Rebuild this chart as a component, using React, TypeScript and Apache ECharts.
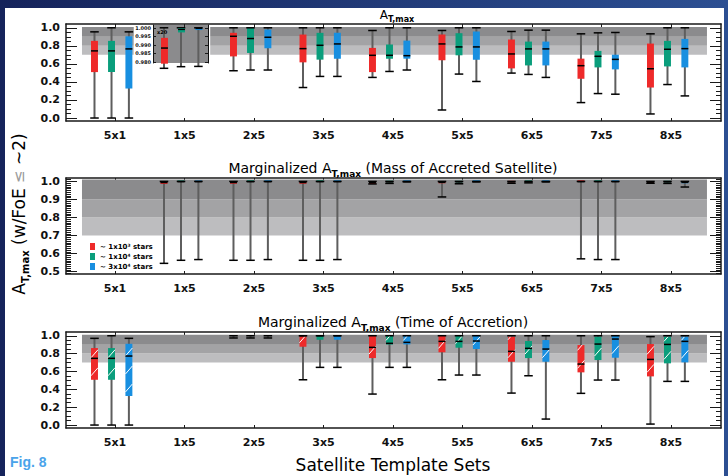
import React, { useEffect, useRef } from 'react';
import * as echarts from 'echarts';

const categories = ['5x1', '1x5', '2x5', '3x5', '4x5', '5x5', '6x5', '7x5', '8x5'];
const starLabels = ['~ 1x10³ stars', '~ 1x10⁴ stars', '~ 3x10⁴ stars'];
const boxColors = ['#ee2a2a', '#0a9e7c', '#188fe0'];

type Q = (number | null)[];
const NONE: Q = [null, null, null, null, null];

// each row: [min, q1, median, q3, max]
// Panel 1 : A_T,max
const atmaxRed: Q[] = [
  [0, 0.509, 0.744, 0.855, 0.955],
  [0.551, null, null, null, 1.0],
  [0.524, 0.683, 0.906, 0.944, 1.0],
  [0.338, 0.617, 0.769, 0.925, 1.0],
  [0.45, 0.509, 0.695, 0.777, 0.97],
  [0.089, 0.639, 0.821, 0.925, 0.97],
  [0.498, 0.55, 0.71, 0.87, 0.959],
  [0.171, 0.435, 0.58, 0.658, 0.933],
  [0.045, 0.338, 0.546, 0.825, 0.933],
];
const atmaxGreen: Q[] = [
  [0, 0.51, 0.744, 0.855, 1.0],
  [0.569, null, null, null, 1.0],
  [0.532, 0.721, 0.881, 1.0, 1.0],
  [0.461, 0.647, 0.806, 0.944, 1.0],
  [0.516, 0.658, 0.695, 0.814, 1.0],
  [0.487, 0.695, 0.788, 0.94, 1.0],
  [0.483, 0.583, 0.766, 0.847, 0.974],
  [0.271, 0.561, 0.684, 0.744, 0.944],
  [0.371, 0.572, 0.762, 0.855, 1.0],
];
const atmaxBlue: Q[] = [
  [0, 0.327, 0.766, 0.906, 0.955],
  [0.572, null, null, null, 1.0],
  [0.532, 0.773, 0.895, 0.981, 1.0],
  [0.461, 0.658, 0.821, 0.944, 1.0],
  [0.532, 0.658, 0.691, 0.858, 1.0],
  [0.405, 0.647, 0.788, 0.959, 1.0],
  [0.45, 0.583, 0.766, 0.847, 0.974],
  [0.264, 0.539, 0.65, 0.702, 0.948],
  [0.245, 0.561, 0.769, 0.877, 1.0],
];
// Inset (x20 zoom of the 1x5 set)
const insetRed: Q[] = [NONE, [null, 0.979, 0.9882, 0.9942, null], NONE, NONE, NONE, NONE, NONE, NONE, NONE];
const insetGreen: Q[] = [NONE, [null, 0.9974, 0.9992, 1.0, null], NONE, NONE, NONE, NONE, NONE, NONE, NONE];
const insetBlue: Q[] = [NONE, [null, 0.9988, 0.9998, 1.0, null], NONE, NONE, NONE, NONE, NONE, NONE, NONE];

// Panel 2 : Marginalized (Mass of Accreted Satellite)
const massRed: Q[] = [
  NONE,
  [0.546, 0.986, 0.994, 1.0, 1.0],
  [0.563, 0.987, 0.994, 1.0, 1.0],
  [0.563, 0.987, 0.994, 1.0, 1.0],
  [0.986, 0.986, 0.993, 1.0, 1.0],
  [0.914, 0.99, 0.995, 1.0, 1.0],
  [0.99, 0.995, 0.998, 1.0, 1.0],
  [0.571, 0.998, 0.999, 1.0, 1.0],
  [0.99, 0.993, 0.996, 1.0, 1.0],
];
const massGreen: Q[] = [
  NONE,
  [0.563, 0.997, 0.999, 1.0, 1.0],
  [0.563, 0.998, 0.999, 1.0, 1.0],
  [0.563, 0.998, 0.999, 1.0, 1.0],
  [0.989, 0.995, 0.998, 1.0, 1.0],
  [0.987, 0.995, 0.998, 1.0, 1.0],
  [0.992, 0.997, 0.999, 1.0, 1.0],
  [0.567, 0.998, 0.999, 1.0, 1.0],
  [0.989, 0.995, 0.998, 1.0, 1.0],
];
const massBlue: Q[] = [
  NONE,
  [0.567, 0.997, 0.999, 1.0, 1.0],
  [0.567, 0.998, 0.999, 1.0, 1.0],
  [0.567, 0.998, 0.999, 1.0, 1.0],
  [0.998, 0.998, 0.999, 1.0, 1.0],
  [0.998, 0.998, 0.999, 1.0, 1.0],
  [0.998, 0.998, 0.999, 1.0, 1.0],
  [0.567, 0.998, 0.999, 1.0, 1.0],
  [0.969, 0.99, 0.995, 1.0, 1.0],
];

// Panel 3 : Marginalized (Time of Accretion)
const timeRed: Q[] = [
  [0, 0.507, 0.747, 0.862, 0.971],
  NONE,
  [0.975, null, null, null, 1.0],
  [0.507, 0.877, 1.0, 1.0, 1.0],
  [0.347, 0.75, 0.87, 1.0, 1.0],
  [0.507, 0.814, 0.937, 1.0, 1.0],
  [0.358, 0.709, 0.825, 0.99, 1.0],
  [0.355, 0.59, 0.683, 0.896, 1.0],
  [0.011, 0.545, 0.735, 0.907, 0.99],
];
const timeGreen: Q[] = [
  [0, 0.507, 0.747, 0.862, 1.0],
  NONE,
  [0.975, null, null, null, 1.0],
  [0.646, 0.955, 1.0, 1.0, 1.0],
  [0.646, 0.903, 0.915, 1.0, 1.0],
  [0.56, 0.866, 0.937, 1.0, 1.0],
  [0.552, 0.75, 0.859, 0.941, 1.0],
  [0.504, 0.728, 0.907, 0.99, 1.0],
  [0.489, 0.691, 0.903, 0.99, 1.0],
];
const timeBlue: Q[] = [
  [0, 0.325, 0.773, 0.91, 0.971],
  NONE,
  [0.975, null, null, null, 1.0],
  [0.646, 0.955, 1.0, 1.0, 1.0],
  [0.646, 0.903, 0.926, 1.0, 1.0],
  [0.56, 0.851, 0.941, 1.0, 1.0],
  [0.067, 0.709, 0.851, 0.952, 1.0],
  [0.504, 0.754, 0.963, 1.0, 1.0],
  [0.489, 0.702, 0.937, 0.99, 1.0],
];

// Shaded reference bands
const bandLow = [0.7, 0.8, 0.9];
const bandHigh = [0.8, 0.9, 1.01];
const bandColors = ['#bdbdbf', '#a3a3a5', '#8b8b8d'];

// Tick labels
const yTicksFull = [0, 0.2, 0.4, 0.6, 0.8, 1.0];
const yTicksMarg = [0.5, 0.6, 0.7, 0.8, 0.9, 1.0];
const yTicksInset = [0.98, 0.985, 0.99, 0.995, 1.0];

// ---------- layout ----------
const FONT = "'DejaVu Sans', sans-serif";
const X_MIN = -0.705;
const X_MAX = 8.72;
const OFFSETS = [-0.295, -0.05, 0.2];
const BOX_W = 0.1;
const BAND_X0 = -0.475;
const BAND_X1 = 8.518;
const INSET_X0 = 0.27;
const INSET_X1 = 1.37;

function steps(a: number, b: number, n: number) {
  const out: number[] = [];
  for (let k = 0; k <= n; k++) out.push(+(a + ((b - a) * k) / n).toFixed(4));
  return out;
}

const panels = [
  { top: 24, height: 97, yMin: -0.033, yMax: 1.042, major: yTicksFull, minor: steps(0, 1, 20), data: [atmaxRed, atmaxGreen, atmaxBlue], hatch: false, bandSegs: [[BAND_X0, INSET_X0], [INSET_X1, BAND_X1]] },
  { top: 178, height: 96, yMin: 0.487, yMax: 1.019, major: yTicksMarg, minor: steps(0.49, 1.01, 52), data: [massRed, massGreen, massBlue], hatch: false, bandSegs: [[BAND_X0, BAND_X1]] },
  { top: 332, height: 96, yMin: -0.033, yMax: 1.042, major: yTicksFull, minor: steps(0, 1, 20), data: [timeRed, timeGreen, timeBlue], hatch: true, bandSegs: [[BAND_X0, BAND_X1]] },
];

function makeBoxRenderer(rows: Q[], offset: number, color: string, hatch: boolean) {
  return (params: any, api: any) => {
    const r = rows[params.dataIndex];
    if (!r) return null;
    const [mn, q1, md, q3, mx] = r;
    const xv = params.dataIndex + offset;
    const cx = api.coord([xv, 0.99])[0];
    const half = api.size([BOX_W, 0])[0] / 2;
    const children: any[] = [];
    const hasW = mn != null && mx != null;
    let yMin = 0, yMax = 0;
    if (hasW) {
      yMin = api.coord([xv, mn])[1];
      yMax = api.coord([xv, mx])[1];
      children.push({ type: 'line', shape: { x1: cx, y1: yMin, x2: cx, y2: yMax }, style: { stroke: '#5e5e5e', lineWidth: 2 } });
    }
    if (q1 != null && q3 != null) {
      const yb = api.coord([xv, q1])[1];
      const yt0 = api.coord([xv, q3])[1];
      const h = Math.max(yb - yt0, 1.5);
      const yt = yb - h;
      children.push({ type: 'rect', shape: { x: cx - half, y: yt, width: half * 2, height: h }, style: { fill: color } });
      if (hatch) {
        const rise = 8;
        for (let y = yb - 4; y > yt + 1.5; y -= 18) {
          const yEnd = y - rise;
          if (yEnd >= yt) {
            children.push({ type: 'line', shape: { x1: cx - half, y1: y, x2: cx + half, y2: yEnd }, style: { stroke: '#ffffff', lineWidth: 1 } });
          } else {
            const frac = (y - yt) / rise;
            children.push({ type: 'line', shape: { x1: cx - half, y1: y, x2: cx - half + 2 * half * frac, y2: yt }, style: { stroke: '#ffffff', lineWidth: 1 } });
          }
        }
      }
      if (md != null) {
        const ym = api.coord([xv, md])[1];
        children.push({ type: 'line', shape: { x1: cx - half, y1: ym, x2: cx + half, y2: ym }, style: { stroke: '#000', lineWidth: 1.5 } });
      }
    }
    if (hasW) {
      const cw = half + 0.8;
      children.push({ type: 'line', shape: { x1: cx - cw, y1: yMin, x2: cx + cw, y2: yMin }, style: { stroke: '#000', lineWidth: 1.5 } });
      children.push({ type: 'line', shape: { x1: cx - cw, y1: yMax, x2: cx + cw, y2: yMax }, style: { stroke: '#000', lineWidth: 1.5 } });
    }
    return { type: 'group', children };
  };
}

function renderBand(params: any, api: any) {
  const p0 = api.coord([api.value(0), api.value(3)]);
  const p1 = api.coord([api.value(1), api.value(2)]);
  return { type: 'rect', shape: { x: p0[0], y: p0[1], width: p1[0] - p0[0], height: p1[1] - p0[1] }, style: { fill: bandColors[api.value(4)] } };
}

function buildOption() {
  const grid: any[] = [];
  const xAxis: any[] = [];
  const yAxis: any[] = [];
  const series: any[] = [];
  const catPos = categories.map((_, i) => i);
  const frameLine = { show: true, onZero: false, lineStyle: { color: '#1a1a1a', width: 1.5 } };
  const tickStyle = { color: '#1a1a1a', width: 1 };

  panels.forEach((p, pi) => {
    grid.push({ left: 66, right: 7, top: p.top, height: p.height, containLabel: false, outerBoundsMode: 'none' });
    xAxis.push({
      gridIndex: pi, type: 'value', min: X_MIN, max: X_MAX, position: 'bottom',
      axisLine: frameLine, splitLine: { show: false },
      axisTick: { show: true, inside: true, length: 3, customValues: catPos, lineStyle: tickStyle },
      axisLabel: { show: true, customValues: catPos, formatter: (v: number) => categories[Math.round(v)] ?? '', margin: 9, fontSize: 11, fontWeight: 'bold', fontFamily: FONT, color: '#111' },
    });
    xAxis.push({
      gridIndex: pi, type: 'value', min: X_MIN, max: X_MAX, position: 'top',
      axisLine: frameLine, splitLine: { show: false },
      axisTick: { show: true, inside: true, length: 3, customValues: catPos, lineStyle: tickStyle },
      axisLabel: { show: false },
    });
    const base = { gridIndex: pi, type: 'value', min: p.yMin, max: p.yMax, splitLine: { show: false } };
    yAxis.push({
      ...base, position: 'left', axisLine: frameLine,
      axisTick: { show: true, inside: true, length: 11, customValues: p.major, lineStyle: tickStyle },
      axisLabel: { show: true, customValues: p.major, formatter: (v: number) => v.toFixed(1), margin: 6, fontSize: 11, fontWeight: 'bold', fontFamily: FONT, color: '#111' },
    });
    yAxis.push({
      ...base, position: 'left', axisLine: { show: false, onZero: false },
      axisTick: { show: true, inside: true, length: 5, customValues: p.minor, lineStyle: tickStyle },
      axisLabel: { show: false },
    });
    yAxis.push({
      ...base, position: 'right', axisLine: frameLine,
      axisTick: { show: true, inside: true, length: 11, customValues: p.major, lineStyle: tickStyle },
      axisLabel: { show: false },
    });
    yAxis.push({
      ...base, position: 'right', axisLine: { show: false, onZero: false },
      axisTick: { show: true, inside: true, length: 5, customValues: p.minor, lineStyle: tickStyle },
      axisLabel: { show: false },
    });

    const bandData: number[][] = [];
    p.bandSegs.forEach(([x0, x1]) => {
      bandLow.forEach((lo, k) => bandData.push([x0, x1, lo, bandHigh[k], k]));
    });
    series.push({
      type: 'custom', xAxisIndex: pi * 2, yAxisIndex: pi * 4, z: 1, silent: true,
      renderItem: renderBand, data: bandData, encode: { x: [0, 1], y: [2, 3] },
    });
    p.data.forEach((rows, c) => {
      series.push({
        type: 'custom', name: starLabels[c], xAxisIndex: pi * 2, yAxisIndex: pi * 4, z: 2, silent: true,
        itemStyle: { color: boxColors[c] },
        renderItem: makeBoxRenderer(rows, OFFSETS[c], boxColors[c], p.hatch),
        data: rows.map((r, i) => [i + OFFSETS[c], r[2] ?? r[4] ?? 0.99]),
        encode: { x: 0, y: 1 },
      });
    });
  });

  // inset grid (index 3), xAxis 6, yAxis 12/13
  grid.push({ left: 153, top: 25, width: 55, height: 38, show: true, backgroundColor: '#8b8b8d', borderWidth: 0, containLabel: false, outerBoundsMode: 'none' });
  xAxis.push({ gridIndex: 3, type: 'value', min: 0.54, max: 1.331, show: false });
  const insetLine = { show: true, onZero: false, lineStyle: { color: '#111', width: 1 } };
  yAxis.push({
    gridIndex: 3, type: 'value', min: 0.97941, max: 1.00176, position: 'left', splitLine: { show: false },
    axisLine: insetLine,
    axisTick: { show: true, inside: true, length: 3, customValues: yTicksInset, lineStyle: tickStyle },
    axisLabel: { show: true, customValues: yTicksInset, formatter: (v: number) => v.toFixed(3), margin: 2, fontSize: 5, fontWeight: 'bold', fontFamily: FONT, color: '#111' },
  });
  yAxis.push({
    gridIndex: 3, type: 'value', min: 0.97941, max: 1.00176, position: 'right', splitLine: { show: false },
    axisLine: insetLine,
    axisTick: { show: true, inside: true, length: 3, customValues: yTicksInset, lineStyle: tickStyle },
    axisLabel: { show: false },
  });
  [insetRed, insetGreen, insetBlue].forEach((rows, c) => {
    series.push({
      type: 'custom', name: starLabels[c], xAxisIndex: 6, yAxisIndex: 12, z: 3, silent: true,
      itemStyle: { color: boxColors[c] },
      renderItem: makeBoxRenderer(rows, OFFSETS[c], boxColors[c], false),
      data: rows.map((r, i) => [i + OFFSETS[c], r[2] ?? 0.99]),
      encode: { x: 0, y: 1 },
    });
  });

  const subRich = (main: number, sub: number, drop: number) => ({
    a: { fontSize: main, fontFamily: FONT, fill: '#000', lineHeight: main + drop },
    s: { fontSize: sub, fontFamily: FONT, fontWeight: 'bold', fill: '#000', verticalAlign: 'bottom' },
    g: { fontSize: main - 2, fontFamily: FONT, fill: '#9a9a9a', lineHeight: main + drop },
  });

  const graphic: any[] = [
    { type: 'text', x: 397, y: 15, z: 10, style: { text: '{a|A}{s|T,max}', rich: subRich(12, 8, 5), align: 'center', verticalAlign: 'middle', fill: '#000' } },
    { type: 'text', x: 393, y: 168, z: 10, style: { text: '{a|Marginalized A}{s|T,max}{a| (Mass of Accreted Satellite)}', rich: subRich(14, 9, 6), align: 'center', verticalAlign: 'middle', fill: '#000' } },
    { type: 'text', x: 393, y: 322, z: 10, style: { text: '{a|Marginalized A}{s|T,max}{a| (Time of Accretion)}', rich: subRich(14, 9, 6), align: 'center', verticalAlign: 'middle', fill: '#000' } },
    { type: 'text', x: 393, y: 465, z: 10, style: { text: 'Satellite Template Sets', fontSize: 17, fontFamily: FONT, fill: '#000', align: 'center', verticalAlign: 'middle' } },
    { type: 'text', x: 19, y: 214, z: 10, rotation: Math.PI / 2, style: { text: '{a|A}{s|T,max}{a| (w/FoE }{g|≤}{a| ~2)}', rich: subRich(17, 10, 6), align: 'center', verticalAlign: 'middle', fill: '#000' } },
    { type: 'text', x: 157, y: 32, z: 10, style: { text: 'x20', fontSize: 5, fontWeight: 'bold', fontFamily: FONT, fill: '#000', align: 'left', verticalAlign: 'middle' } },
    { type: 'text', x: 10, y: 462, z: 10, style: { text: 'Fig. 8', fontSize: 14, fontWeight: 'bold', fontFamily: "'Liberation Sans', Arial, sans-serif", fill: '#4aa3ea', align: 'left', verticalAlign: 'middle' } },
  ];

  return {
    animation: false,
    backgroundColor: 'transparent',
    grid,
    xAxis,
    yAxis,
    series,
    graphic,
    legend: {
      show: true, data: starLabels, orient: 'vertical', left: 85, top: 238,
      itemWidth: 5, itemHeight: 7, itemGap: 3, icon: 'rect', selectedMode: false,
      textStyle: { fontSize: 7, fontWeight: 'bold', fontFamily: FONT, color: '#000' },
    },
    tooltip: { show: false },
  };
}

export default function App() {
  const ref = useRef<HTMLDivElement>(null);
  useEffect(() => {
    const chart = echarts.init(ref.current!, null, { renderer: 'svg' });
    chart.setOption(buildOption() as any);
    return () => chart.dispose();
  }, []);
  return (
    <div style={{ position: 'fixed', left: 0, top: 0, width: 728, height: 476, background: 'linear-gradient(90deg, #15235b, #2c4f92)', overflow: 'hidden' }}>
      <div style={{ position: 'absolute', left: 5, top: 8, width: 719, height: 468, background: '#ffffff' }} />
      <div ref={ref} style={{ position: 'absolute', left: 0, top: 0, width: 728, height: 476 }} />
    </div>
  );
}
